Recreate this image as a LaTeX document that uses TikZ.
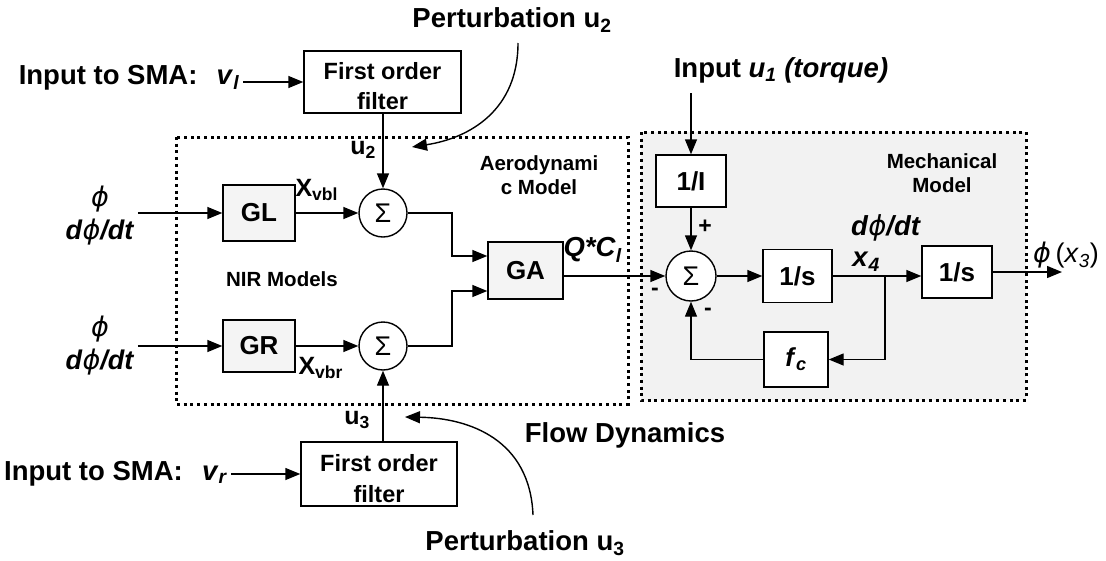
\documentclass[tikz,border=0pt]{standalone}
\usepackage{fontspec}
\setmainfont{Liberation Sans}
\newfontfamily\djv{DejaVu Sans}
\usetikzlibrary{arrows.meta,calc}
\newcommand\phis{{\djv\mdseries\itshape ϕ}}
\tikzset{
  conn/.style={line width=1.4pt},
  arr/.style={conn,-{Triangle[length=15pt,width=12pt]}},
  box/.style={draw,line width=1.4pt,inner sep=0pt},
  gbox/.style={box,fill=gray!9},
  wbox/.style={box,fill=white},
  sumn/.style={draw,circle,line width=1.4pt,minimum size=48pt,inner sep=0pt,font=\fontsize{27}{28}\selectfont},
  dotb/.style={line width=3pt,dash pattern=on 3pt off 3.7pt},
  lbl/.style={font=\fontsize{27.5}{30}\selectfont\bfseries},
  blkf/.style={font=\fontsize{26}{30}\selectfont\bfseries},
  ffont/.style={font=\fontsize{23.5}{28}\selectfont\bfseries,inner sep=0pt},
  sml/.style={font=\fontsize{20.5}{24}\selectfont\bfseries,align=center},
  sgn/.style={font=\fontsize{23}{24}\selectfont\bfseries}
}
\begin{document}
\begin{tikzpicture}[x=1pt,y=-1pt]
\useasboundingbox (0,0) rectangle (1106,560);
% group frames
\draw[dotb] (176,137) rectangle (628,404);
\draw[dotb,fill=gray!10] (641,132) rectangle (1026,400);
% filters
\node[box,minimum width=157pt,minimum height=62pt] (F1) at (382.5,82) {};
\node[ffont,anchor=base] (F1a) at ($(F1.north)+(0,29)$) {First order};
\node[ffont,anchor=base] (F1b) at ($(F1.north)+(0,59)$) {filter};
\node[box,minimum width=156pt,minimum height=64pt] (F2) at (379,474) {};
\node[ffont,anchor=base] (F2a) at ($(F2.north)+(0,30)$) {First order};
\node[ffont,anchor=base] (F2b) at ($(F2.north)+(0,61)$) {filter};
% flow dynamics blocks
\node[gbox,blkf,minimum width=72pt,minimum height=56pt] (GL) at (259,213) {GL};
\node[gbox,blkf,minimum width=72pt,minimum height=52pt] (GR) at (259,346) {GR};
\node[sumn] (S1) at (383,213) {Σ};
\node[sumn] (S2) at (383,346) {Σ};
\node[gbox,blkf,minimum width=75pt,minimum height=57pt] (GA) at (525.5,270.5) {GA};
% mechanical blocks
\node[sumn,fill=white,minimum size=50pt] (S3) at (691,276) {Σ};
\node[wbox,blkf,minimum width=70pt,minimum height=52pt] (I1) at (691,181) {1/I};
\node[wbox,blkf,minimum width=69pt,minimum height=53pt] (P1) at (797.5,276) {1/s};
\node[wbox,blkf,minimum width=70pt,minimum height=52pt] (P2) at (957,272) {1/s};
\node[wbox,blkf,minimum width=64pt,minimum height=55pt] (FC) at (796,359.5) {\textit{f}\textsubscript{\textit{c}}};
% text labels
\node[lbl,anchor=base east] (vl) at (243,84) {Input to SMA:\hspace{0.7em}\textit{v}\textsubscript{\textit{l}}};
\node[lbl,anchor=base east] (vr) at (231,480) {Input to SMA:\hspace{0.7em}\textit{v}\textsubscript{\textit{r}}};
\node[lbl,font=\fontsize{27}{33}\selectfont\bfseries,align=center] (phi1) at (100,216) {\phis\\\textit{d}\phis\textit{/dt}};
\node[lbl,font=\fontsize{27}{33}\selectfont\bfseries,align=center] (phi2) at (100,346) {\phis\\\textit{d}\phis\textit{/dt}};
\node[lbl] (pu2) at (512,20) {Perturbation u\textsubscript{2}};
\node[lbl] (pu3) at (525,543) {Perturbation u\textsubscript{3}};
\node[lbl] (inu1) at (781,70) {Input \textit{u}\textsubscript{\textit{1}} \textit{(torque)}};
\node[lbl] (flow) at (625,435) {Flow Dynamics};
\node[lbl,font=\fontsize{25}{28}\selectfont\bfseries] (u2l) at (363,150) {u\textsubscript{2}};
\node[lbl,font=\fontsize{25}{28}\selectfont\bfseries] (u3l) at (357,420) {u\textsubscript{3}};
\node[lbl,font=\fontsize{25}{28}\selectfont\bfseries,anchor=west] (xvbl) at (292,190) {X\textsubscript{vbl}};
\node[lbl,font=\fontsize{25}{28}\selectfont\bfseries,anchor=west] (xvbr) at (295,368) {X\textsubscript{vbr}};
\node[lbl,anchor=west] (qcl) at (560,250) {\textit{Q*C}\textsubscript{\textit{l}}};
\node[lbl] (dpdt) at (886,228) {\textit{d}\phis\textit{/dt}};
\node[lbl] (x4) at (866,262) {\textit{x}\textsubscript{\textit{4}}};
\node[font=\fontsize{27}{30}\selectfont] (outl) at (1066,255) {\phis\,(\textit{x}\textsubscript{\textit{3}})};
\node[sml] (aero) at (539,175) {Aerodynami\\c Model};
\node[sml] (mech) at (942,173) {Mechanical\\Model};
\node[sml] (nir) at (282,279) {NIR Models};
\node[sgn] (plus) at (705,227) {+};
\node[sgn] (min1) at (655,292) {-};
\node[sgn] (min2) at (708,312) {-};
% coordinates
\coordinate (J) at (452,0);
\coordinate (ga1) at ($(GA.west)+(0,-14.5)$);
\coordinate (ga2) at ($(GA.west)+(0,20.5)$);
\coordinate (u1in) at (691,93);
\coordinate (B) at (885,276);
\coordinate (out) at (1062,272);
\coordinate (pu2s) at (518,43);
\coordinate (pu2e) at (412,147);
\coordinate (pu3s) at (533,515);
\coordinate (pu3e) at (405,417);
% connectors
\draw[arr] (vl.east |- F1.west) -- (F1.west);
\draw[arr] (vr.east |- F2.west) -- (F2.west);
\draw[arr] (F1.south -| S1.north) -- (S1.north);
\draw[arr] (F2.north -| S2.south) -- (S2.south);
\draw[arr] (GL.west -| phi1.east) -- (GL.west);
\draw[arr] (GR.west -| phi2.east) -- (GR.west);
\draw[arr] (GL.east) -- (S1.west);
\draw[arr] (GR.east) -- (S2.west);
\draw[arr] (S1.east) -- (S1.east -| J) |- (ga1);
\draw[arr] (S2.east) -- (S2.east -| J) |- (ga2);
\draw[arr] (GA.east |- S3.west) -- (S3.west);
\draw[arr] (u1in) -- (I1.north);
\draw[arr] (I1.south) -- (S3.north);
\draw[arr] (S3.east) -- (P1.west);
\draw[conn] (P1.east) -- (B);
\draw[arr] (B) -- (B -| P2.west);
\draw[arr] (B) |- (FC.east);
\draw[arr] (FC.west) -| (S3.south);
\draw[arr] (P2.east) -- (out);
\draw[arr] (pu2s) .. controls (518,110) and (470,138) .. (pu2e);
\draw[arr] (pu3s) .. controls (530,440) and (470,418) .. (pu3e);
\end{tikzpicture}
\end{document}
